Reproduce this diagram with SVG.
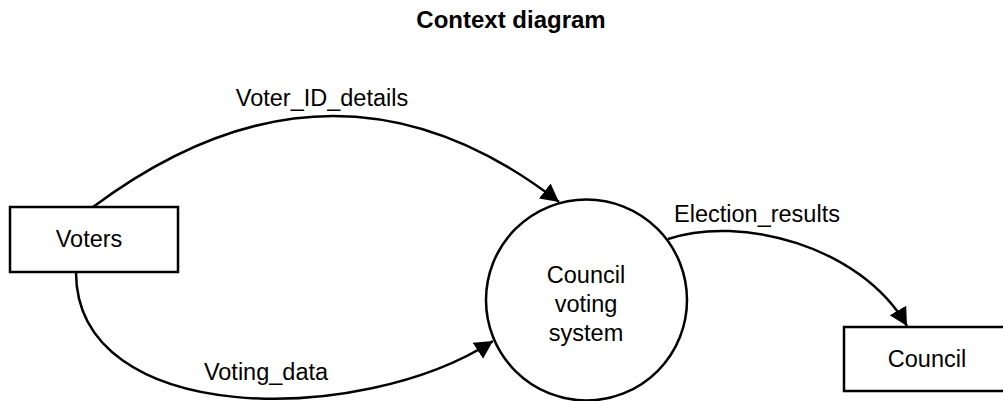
<svg xmlns="http://www.w3.org/2000/svg" width="1003" height="401" viewBox="0 0 1003 401">
<style>
text{font-family:"Liberation Sans",Arial,sans-serif;font-size:23.5px;fill:#000;text-anchor:middle}
.title{font-weight:bold;font-size:24px}
.shape{fill:#fff;stroke:#000;stroke-width:2.5}
.flow{fill:none;stroke:#000;stroke-width:2.5}
</style>
<defs>
<marker id="arr" markerUnits="userSpaceOnUse" markerWidth="20" markerHeight="20" viewBox="0 0 20 20" refX="18" refY="9.5" orient="auto">
<path d="M0,0 L18,9.5 L0,19 z" fill="#000"/>
</marker>
</defs>
<rect width="1003" height="401" fill="#fff"/>
<text class="title" x="511" y="28">Context diagram</text>
<g id="connectors">
<g id="e-voter-id">
<path class="flow" d="M93,207 Q334,27.5 559,202" marker-end="url(#arr)"/>
<text x="322" y="106">Voter_ID_details</text>
</g>
<g id="e-voting-data">
<path class="flow" d="M76,272 C76,427 360,427 493,341" marker-end="url(#arr)"/>
<text x="266" y="380">Voting_data</text>
</g>
<g id="e-results">
<path class="flow" d="M668,239 C740,215 860,245 907,326" marker-end="url(#arr)"/>
<text x="757" y="222">Election_results</text>
</g>
</g>
<g id="voters">
<rect class="shape" x="10" y="207" width="168" height="65"/>
<text x="89" y="247">Voters</text>
</g>
<g id="system">
<circle class="shape" cx="586.5" cy="300" r="100.5"/>
<text x="586" y="283">Council</text>
<text x="586" y="311.5">voting</text>
<text x="586" y="340.5">system</text>
</g>
<g id="council">
<rect class="shape" x="844" y="327" width="170" height="64"/>
<text x="927" y="367">Council</text>
</g>
</svg>
